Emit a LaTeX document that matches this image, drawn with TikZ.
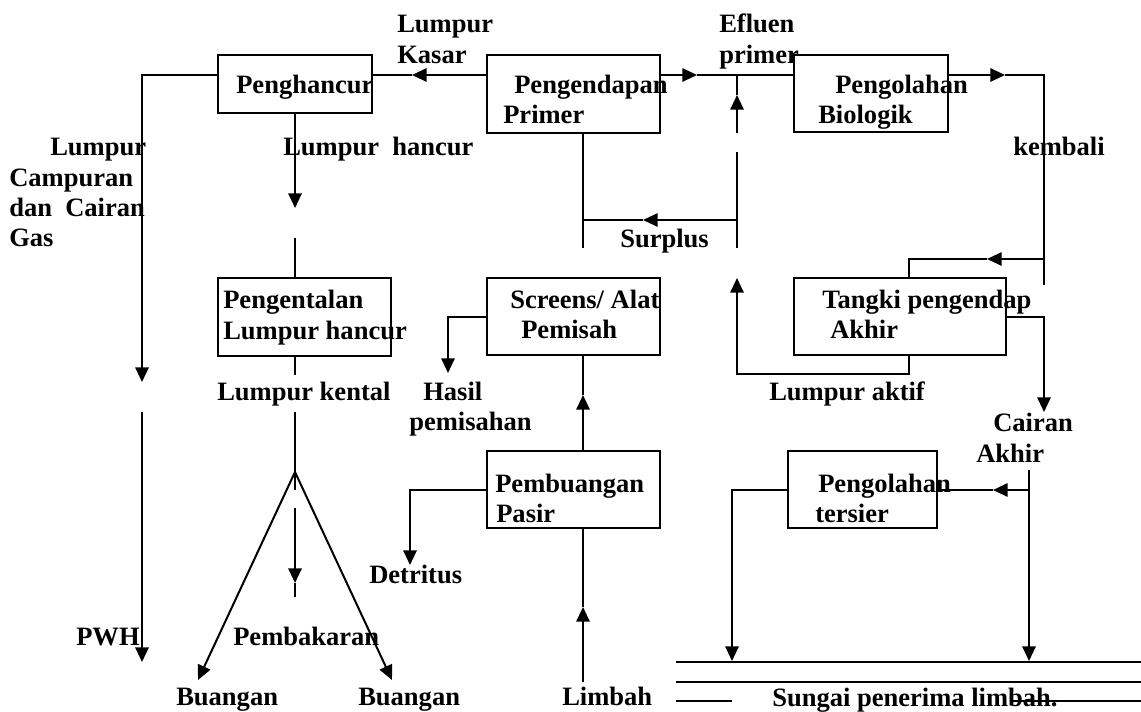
\documentclass[tikz,border=0pt]{standalone}
\usepackage{fontspec}
\setmainfont{Liberation Serif}
\usetikzlibrary{arrows.meta}

\tikzset{
  ln/.style={line width=1.5pt},
  arr/.style={ln, -{Triangle[length=11pt,width=10pt]}},
  box/.style={draw, line width=1.5pt, inner sep=0pt},
  lbl/.style={anchor=base west, inner sep=0pt,
              font=\bfseries\fontsize{19.9}{22.5}\selectfont},
}

\begin{document}
\begin{tikzpicture}[x=0.75pt, y=-0.75pt]
\useasboundingbox (0,0) rectangle (1141,711);

% ---------- process units ----------
\node[box, minimum width=115.5pt, minimum height=43.5pt]  (phc) at (295,84)    {};
\node[box, minimum width=129.75pt, minimum height=58.5pt] (pp)  at (573.5,94)  {};
\node[box, minimum width=115.5pt, minimum height=57.75pt] (pb)  at (871,93.5)  {};
\node[box, minimum width=159pt, minimum height=57.75pt]   (tpa) at (900,316.5) {};
\node[box, minimum width=129.75pt, minimum height=58.5pt] (plh) at (304.5,317) {};
\node[box, minimum width=129.75pt, minimum height=57.75pt](scr) at (573.5,316.5) {};
\node[box, minimum width=129.75pt, minimum height=57.75pt](pbp) at (573.5,489.5) {};
\node[box, minimum width=111.75pt, minimum height=57.75pt](pt)  at (862.5,489.5) {};

% ---------- unit texts ----------
\node[lbl] (tphc)  at (236,93)  {Penghancur};
\node[lbl] (tpp1)  at (514,93)  {Pengendapan};
\node[lbl] (tpp2)  at (503,123) {Primer};
\node[lbl] (tpb1)  at (835,93)  {Pengolahan};
\node[lbl] (tpb2)  at (818,123) {Biologik};
\node[lbl] (tplh1) at (223,308) {Pengentalan};
\node[lbl] (tplh2) at (223,339) {Lumpur hancur};
\node[lbl] (tscr1) at (510,308) {Screens/ Alat};
\node[lbl] (tscr2) at (521,338) {Pemisah};
\node[lbl] (ttpa1) at (822,308) {Tangki pengendap};
\node[lbl] (ttpa2) at (830,338) {Akhir};
\node[lbl] (tpbp1) at (495,492) {Pembuangan};
\node[lbl] (tpbp2) at (496,522) {Pasir};
\node[lbl] (tpt1)  at (818,492) {Pengolahan};
\node[lbl] (tpt2)  at (815,522) {tersier};

% ---------- flow texts ----------
\node[lbl] (lk1) at (397,32)  {Lumpur};
\node[lbl] (lk2) at (397,63)  {Kasar};
\node[lbl] (ef1) at (719,32)  {Efluen};
\node[lbl] (ef2) at (719,63)  {primer};
\node[lbl] (lh)  at (283,155) {Lumpur\ \ hancur};
\node[lbl] (kb)  at (1013,155){kembali};
\node[lbl] (lc1) at (50,155)  {Lumpur};
\node[lbl] (lc2) at (9,186)   {Campuran};
\node[lbl] (lc3) at (9,216)   {dan\ \ Cairan};
\node[lbl] (lc4) at (9,246)   {Gas};
\node[lbl] (sur) at (620,247) {Surplus};
\node[lbl] (lkt) at (217,400) {Lumpur kental};
\node[lbl] (hs1) at (423,400) {Hasil};
\node[lbl] (hs2) at (409,430) {pemisahan};
\node[lbl] (lak) at (769,400) {Lumpur aktif};
\node[lbl] (ca1) at (993,431) {Cairan};
\node[lbl] (ca2) at (976,462) {Akhir};
\node[lbl] (det) at (369,583) {Detritus};
\node[lbl] (pbk) at (233,645) {Pembakaran};
\node[lbl] (pwh) at (76,645)  {PWH};
\node[lbl] (bg1) at (176,705) {Buangan};
\node[lbl] (bg2) at (358,705) {Buangan};
\node[lbl] (lim) at (562,705) {Limbah};
\node[lbl] (sng) at (772,706) {Sungai penerima limbah.};

% ---------- top row of flows ----------
\coordinate (rowA) at (0,75);
% coarse sludge back to the crusher
\coordinate (tA) at (412,75);
\draw[arr] (pp.west |- rowA) -- (tA);
\draw[ln] (tA) -- (phc.east |- rowA);
% mixed sludge and gas down the left side
\coordinate (cL1) at (142,75);
\coordinate (tL1) at (142,382);
\coordinate (cL2) at (142,412);
\coordinate (tL2) at (142,662);
\draw[arr] (phc.west |- rowA) -- (cL1) -- (tL1);
\draw[arr] (cL2) -- (tL2);
% primary effluent to biological treatment
\coordinate (tB) at (697,75);
\draw[arr] (pp.east |- rowA) -- (tB);
\draw[ln] (tB) -- (pb.west |- rowA);
% rising branch and surplus sludge
\coordinate (jS) at (737,75);
\coordinate (tS) at (737,95);
\coordinate (sUp) at (737,133);
\draw[arr] (sUp) -- (tS);
\draw[ln] (tS) -- (jS);
\coordinate (sLo1) at (737,152);
\coordinate (sLo2) at (737,248);
\draw[ln] (sLo1) -- (sLo2);
\coordinate (sJ) at (737,220);
\coordinate (tSur) at (643,220);
\coordinate (sL) at (583,220);
\coordinate (sL2) at (583,248);
\draw[arr] (sJ) -- (tSur);
\draw[ln] (tSur) -- (sL);
\draw[ln] (pp.south -| sL) -- (sL2);
% biological treatment outlet and return
\coordinate (tC) at (1005,75);
\coordinate (cR) at (1044,75);
\coordinate (cR2) at (1044,285);
\draw[arr] (pb.east |- rowA) -- (tC);
\draw[ln] (tC) -- (cR) -- (cR2);
\coordinate (kJ) at (1044,259);
\coordinate (tK) at (987,259);
\coordinate (kB) at (909,259);
\draw[arr] (kJ) -- (tK);
\draw[ln] (tK) -- (kB) -- (kB |- tpa.north);
% final liquid
\coordinate (fR) at (1044,316.5);
\coordinate (tF) at (1044,412);
\draw[arr] (tpa.east) -- (fR) -- (tF);
% activated sludge back up
\coordinate (aB) at (909,374);
\coordinate (aL) at (737,374);
\coordinate (tAct) at (737,278);
\draw[arr] (tpa.south -| aB) -- (aB) -- (aL) -- (tAct);

% ---------- sludge line ----------
\coordinate (tH) at (295,208);
\coordinate (hB) at (295,238);
\draw[arr] (phc.south) -- (tH);
\draw[ln] (hB) -- (plh.north -| hB);
\coordinate (kA) at (295,375);
\coordinate (kB2) at (295,412);
\coordinate (apex) at (295,472);
\coordinate (mA) at (295,490);
\draw[ln] (plh.south -| hB) -- (kA);
\draw[ln] (kB2) -- (apex) -- (mA);
\coordinate (tBL) at (198,680);
\coordinate (tBR) at (392,680);
\draw[arr] (apex) -- (tBL);
\draw[arr] (apex) -- (tBR);
\coordinate (mB) at (295,508);
\coordinate (tM) at (295,583);
\coordinate (mC) at (295,597);
\draw[arr] (mB) -- (tM);
\draw[ln] (tM) -- (mC);

% ---------- screens and grit ----------
\coordinate (sc1) at (448,316.5);
\coordinate (tHs) at (448,373);
\draw[arr] (scr.west) -- (sc1) -- (tHs);
\coordinate (tG) at (583,395);
\draw[arr] (pbp.north -| tG) -- (tG);
\draw[ln] (tG) -- (scr.south -| tG);
\coordinate (d1) at (410,489.5);
\coordinate (tD) at (410,565);
\draw[arr] (pbp.west) -- (d1) -- (tD);
\coordinate (inf) at (583,682);
\coordinate (tIn) at (583,607);
\draw[arr] (inf) -- (tIn);
\draw[ln] (tIn) -- (pbp.south -| inf);

% ---------- tertiary treatment ----------
\coordinate (tr1) at (1029,470);
\coordinate (trJ) at (1029,490);
\coordinate (tRv1) at (1029,661);
\coordinate (tT) at (993,490);
\draw[arr] (tr1) -- (tRv1);
\draw[arr] (trJ) -- (tT);
\draw[ln] (tT) -- (pt.east |- trJ);
\coordinate (tw) at (732,490);
\coordinate (tRv2) at (732,661);
\draw[arr] (pt.west |- tw) -- (tw) -- (tRv2);

% ---------- receiving river ----------
\coordinate (rA1) at (676,662);   \coordinate (rA2) at (1141,662);
\coordinate (rB1) at (676,682);   \coordinate (rB2) at (1141,682);
\coordinate (rC1) at (676,701);   \coordinate (rC2) at (732,701);
\coordinate (rD1) at (1010,701);  \coordinate (rD2) at (1141,701);
\draw[ln] (rA1) -- (rA2);
\draw[ln] (rB1) -- (rB2);
\draw[ln] (rC1) -- (rC2);
\draw[ln] (rD1) -- (rD2);
\end{tikzpicture}
\end{document}
